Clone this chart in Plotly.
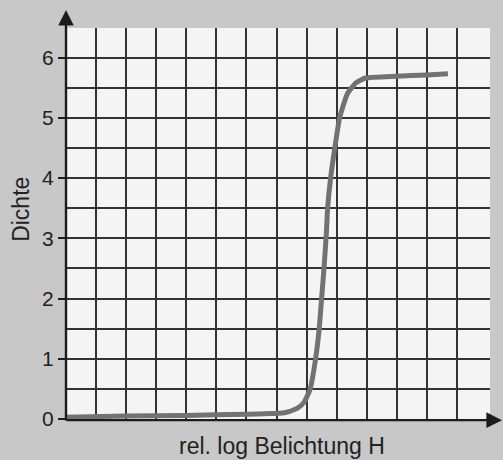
import plotly.graph_objects as go

# Characteristic curve (Dichte vs. rel. log Belichtung H)
log_h = [0.0, 1.0, 2.0, 3.0, 3.4, 3.6, 3.7, 3.78, 3.85, 3.96, 4.06, 4.15, 4.21, 4.25,
         4.29, 4.33, 4.35, 4.40, 4.47, 4.55, 4.68, 4.82, 4.98, 5.5, 6.0, 6.35]
dichte = [0.03, 0.05, 0.06, 0.08, 0.09, 0.10, 0.12, 0.15, 0.18, 0.28, 0.5, 1.0, 1.5, 2.0,
          2.5, 3.1, 3.5, 4.0, 4.5, 5.0, 5.4, 5.58, 5.66, 5.69, 5.71, 5.73]

y_ticks = [0, 1, 2, 3, 4, 5, 6]
y_tick_labels = ["0", "1", "2", "3", "4", "5", "6"]
x_grid = [0.5, 1.0, 1.5, 2.0, 2.5, 3.0, 3.5, 4.0, 4.5, 5.0, 5.5, 6.0, 6.5]

x_title = "rel. log Belichtung H"
y_title = "Dichte"

FONT = "Liberation Sans, Arial, Helvetica, sans-serif"
GRID = "#333333"
AXIS = "#1c1c1c"

fig = go.Figure()
fig.add_trace(go.Scatter(
    x=log_h, y=dichte, mode="lines",
    line=dict(color="#727272", width=5, shape="spline", smoothing=0.5),
    hoverinfo="skip", showlegend=False,
))

fig.update_layout(
    width=503, height=460,
    margin=dict(l=66, r=13, t=28, b=41),
    paper_bgcolor="#c8c8c8",
    plot_bgcolor="#f4f4f4",
    showlegend=False,
    font=dict(family=FONT, color="#222222", size=21),
    xaxis=dict(
        range=[0, 7.05], tickvals=x_grid, showticklabels=False, ticks="",
        showgrid=True, gridcolor=GRID, gridwidth=1.6,
        zeroline=False, showline=False, fixedrange=True,
    ),
    yaxis=dict(
        range=[0, 6.49], tickvals=y_ticks, ticktext=y_tick_labels,
        ticks="outside", ticklen=7, tickwidth=2, tickcolor=AXIS,
        tickfont=dict(size=21, family=FONT, color="#222222"),
        showgrid=True, gridcolor=GRID, gridwidth=1.6,
        minor=dict(dtick=0.5, showgrid=True, gridcolor=GRID, gridwidth=1.6, ticks=""),
        zeroline=False, showline=False, fixedrange=True,
    ),
)

# axes drawn as arrows
fig.add_annotation(x=0, y=1.046, xref="paper", yref="paper", text="",
                   showarrow=True, ax=0, ay=412, arrowhead=2, arrowsize=1.3,
                   arrowwidth=2.4, arrowcolor=AXIS, standoff=0, startstandoff=0)
fig.add_annotation(x=1.0307, y=-0.003, xref="paper", yref="paper", text="",
                   showarrow=True, ax=-438, ay=0, arrowhead=2, arrowsize=1.3,
                   arrowwidth=2.4, arrowcolor=AXIS, standoff=0, startstandoff=0)

# axis titles
fig.add_annotation(x=-0.106, y=0.535, xref="paper", yref="paper", text=y_title,
                   textangle=-90, showarrow=False, xanchor="center", yanchor="middle",
                   font=dict(size=23, family=FONT, color="#222222"))
fig.add_annotation(x=0.509, y=-0.07, xref="paper", yref="paper", text=x_title,
                   showarrow=False, xanchor="center", yanchor="middle",
                   font=dict(size=23, family=FONT, color="#222222"))

fig.write_html(
    "out.html",
    config={"displayModeBar": False},
    post_script="document.body.style.margin='0';document.body.style.overflow='hidden';",
)
